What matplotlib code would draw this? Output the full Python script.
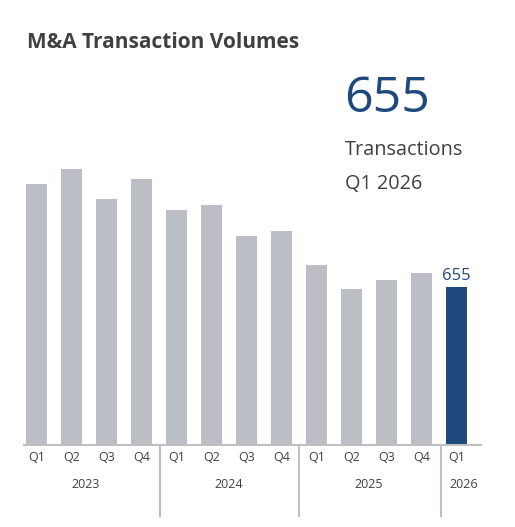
import matplotlib
matplotlib.use('Agg')
import matplotlib.pyplot as plt
import matplotlib.transforms as mtransforms

quarters = ['Q1', 'Q2', 'Q3', 'Q4', 'Q1', 'Q2', 'Q3', 'Q4', 'Q1', 'Q2', 'Q3', 'Q4', 'Q1']
volumes = [1082, 1144, 1020, 1103, 974, 995, 866, 887, 746, 647, 684, 713, 655]
years = ['2023', '2024', '2025', '2026']
year_pos = [1.4, 5.5, 9.5, 12.2]
separators = [3.53, 7.51, 11.55]

gray = '#bcbec5'
blue = '#1f497d'
text_col = '#404040'

W, H = 515, 527
fig = plt.figure(figsize=(W / 100, H / 100), dpi=100)
fig.patch.set_facecolor('white')

# axes placed in pixel terms: baseline at y=445, axis line from x=24 to x=481
top_px = 150
ax = fig.add_axes([24 / W, (H - 445) / H, 457 / W, (445 - top_px) / H])
ax.set_xlim(-0.357, 12.7)
ax.set_ylim(0, (445 - top_px) * 655 / 158)

colors = [gray] * (len(volumes) - 1) + [blue]
ax.bar(range(len(volumes)), volumes, width=0.6, color=colors, zorder=2)

for s in ['top', 'right', 'left']:
    ax.spines[s].set_visible(False)
ax.spines['bottom'].set_color('#c0c0c0')
ax.spines['bottom'].set_linewidth(1.5)
ax.set_yticks([])
ax.set_xticks(range(len(quarters)))
ax.set_xticklabels(quarters, fontsize=9, color=text_col, family='Open Sans')
ax.tick_params(axis='x', length=0, pad=4)

trans = mtransforms.blended_transform_factory(ax.transData, ax.transAxes)
ax_h = 445 - top_px
for x in separators:
    ax.plot([x, x], [0, -(516 - 445) / ax_h], transform=trans, color='#c0c0c0',
            lw=1.5, clip_on=False)
for x, y in zip(year_pos, years):
    ax.text(x, -(484 - 445) / ax_h, y, transform=trans, ha='center', va='center',
            fontsize=9, color=text_col, family='Open Sans')

# value label on latest bar
ax.text(len(volumes) - 1, volumes[-1] + 12, str(volumes[-1]), ha='center', va='bottom',
        fontsize=12, color=blue, family='Open Sans')

fig.text(27 / W, 1 - 43 / H, 'M&A Transaction Volumes', fontsize=15, fontweight='bold',
         color=text_col, family='Open Sans', va='center', ha='left')
fig.text(344 / W, 1 - 112 / H, str(volumes[-1]), fontsize=36, color=blue,
         family='Open Sans', va='baseline', ha='left')
fig.text(345 / W, 1 - 155 / H, 'Transactions', fontsize=14.3, color=text_col,
         family='Open Sans', va='baseline', ha='left')
fig.text(345 / W, 1 - 189 / H, 'Q1 2026', fontsize=14.3, color=text_col,
         family='Open Sans', va='baseline', ha='left')

fig.savefig('out.png', dpi=100, facecolor='white')
